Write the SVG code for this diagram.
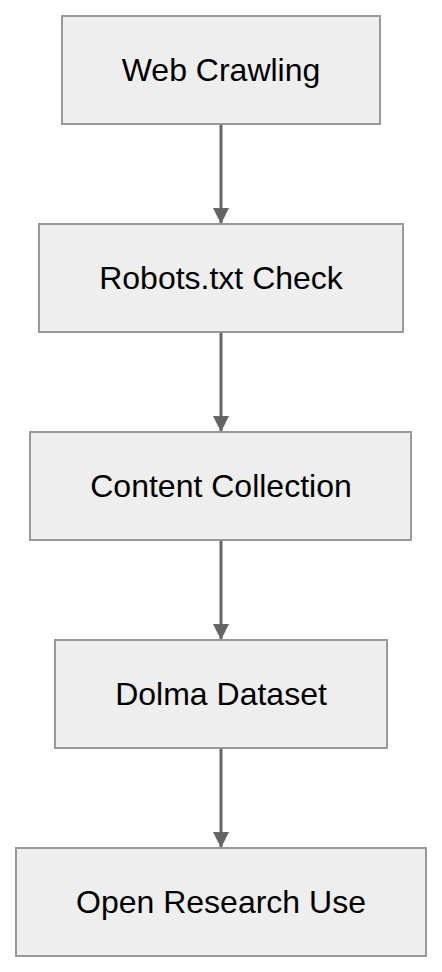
<svg xmlns="http://www.w3.org/2000/svg" width="442" height="972" viewBox="0 0 442 972">
<style>
.box{fill:#eeeeee;stroke:#999999;stroke-width:2}
.lbl{font-family:"Liberation Sans",Arial,sans-serif;font-size:32px;fill:#000;text-anchor:middle;dominant-baseline:central}
.edge{stroke:#666666;stroke-width:3;fill:none}
</style>
<defs>
<marker id="arr" viewBox="0 0 16 16" markerWidth="16" markerHeight="16" refX="16" refY="8" orient="auto" markerUnits="userSpaceOnUse">
<path d="M0,0 L16,8 L0,16 z" fill="#666666"/>
</marker>
</defs>
<g id="edges">
<line class="edge" x1="221" y1="124" x2="221" y2="224" marker-end="url(#arr)"/>
<line class="edge" x1="221" y1="332" x2="221" y2="432" marker-end="url(#arr)"/>
<line class="edge" x1="221" y1="540" x2="221" y2="640" marker-end="url(#arr)"/>
<line class="edge" x1="221" y1="748" x2="221" y2="848" marker-end="url(#arr)"/>
</g>
<g id="n1"><rect class="box" x="62" y="16" width="318" height="108"/><text class="lbl" x="221" y="70">Web Crawling</text></g>
<g id="n2"><rect class="box" x="39" y="224" width="364" height="108"/><text class="lbl" x="221" y="278">Robots.txt Check</text></g>
<g id="n3"><rect class="box" x="30" y="432" width="381" height="108"/><text class="lbl" x="221" y="486">Content Collection</text></g>
<g id="n4"><rect class="box" x="55" y="640" width="332" height="108"/><text class="lbl" x="221" y="694">Dolma Dataset</text></g>
<g id="n5"><rect class="box" x="16" y="848" width="410" height="108"/><text class="lbl" x="221" y="902">Open Research Use</text></g>
</svg>
